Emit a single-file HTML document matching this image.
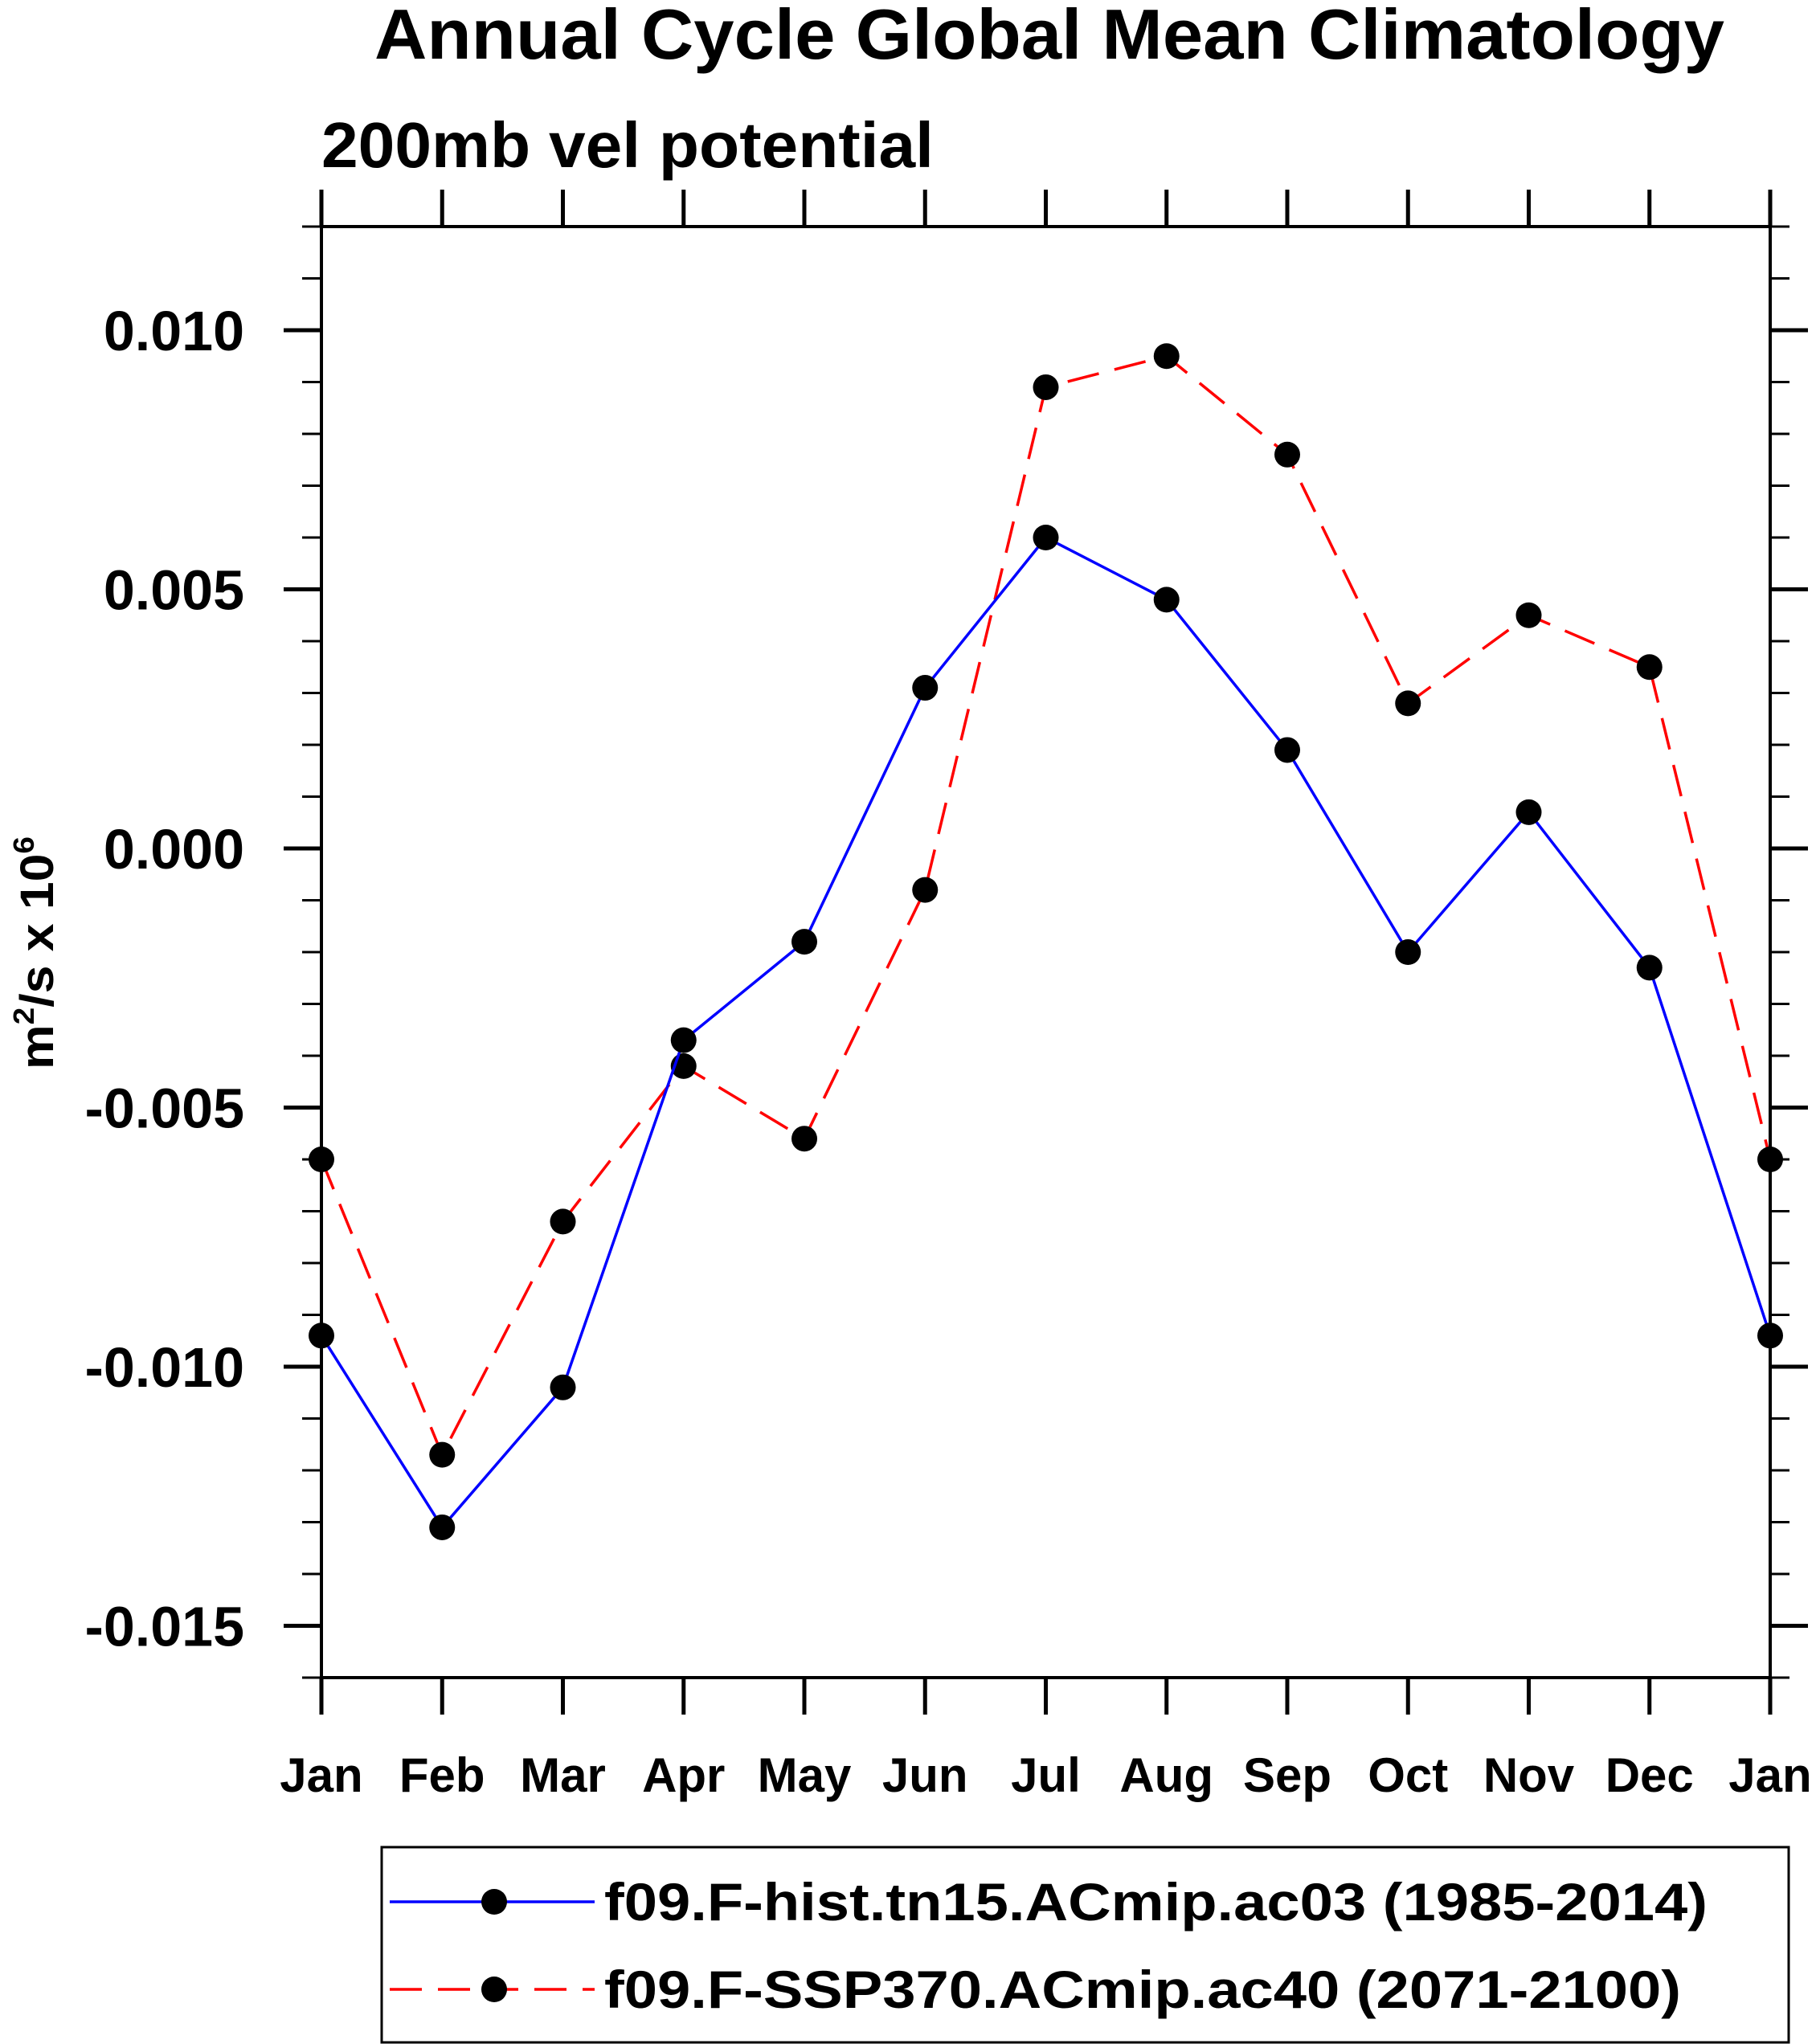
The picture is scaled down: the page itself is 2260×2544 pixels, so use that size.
<!DOCTYPE html>
<html><head><meta charset="utf-8"><style>html,body{margin:0;padding:0;background:#fff}svg{display:block}</style></head>
<body>
<svg id="chart" width="2260" height="2544" viewBox="0 0 2260 2544" xmlns="http://www.w3.org/2000/svg" font-family="Liberation Sans, Arial, sans-serif" font-weight="bold">
<rect width="2260" height="2544" fill="#fff"/>
<text x="1306" y="73" font-size="88" text-anchor="middle" textLength="1680" lengthAdjust="spacingAndGlyphs">Annual Cycle Global Mean Climatology</text>
<text x="400" y="208" font-size="80" textLength="762" lengthAdjust="spacingAndGlyphs">200mb vel potential</text>
<text transform="translate(66,1186) rotate(-90)" font-size="58" text-anchor="middle" textLength="290" lengthAdjust="spacingAndGlyphs">m<tspan font-size="36" dy="-24">2</tspan><tspan dy="24">/s x 10</tspan><tspan font-size="36" dy="-24">6</tspan></text>
<g id="axes"></g>
<g id="series"></g>
<g>
<rect x="475" y="2299" width="1751" height="243" fill="none" stroke="#000" stroke-width="3"/>
<line x1="485" y1="2367" x2="740" y2="2367" stroke="#0000ff" stroke-width="3.5"/>
<circle cx="615" cy="2367" r="16" fill="#000"/>
<text x="752" y="2390" font-size="66" textLength="1373" lengthAdjust="spacingAndGlyphs">f09.F-hist.tn15.ACmip.ac03 (1985-2014)</text>
<line x1="485" y1="2476" x2="740" y2="2476" stroke="#ff0000" stroke-width="3.5" stroke-dasharray="40,20"/>
<circle cx="615" cy="2476" r="16" fill="#000"/>
<text x="752" y="2499" font-size="66" textLength="1340" lengthAdjust="spacingAndGlyphs">f09.F-SSP370.ACmip.ac40 (2071-2100)</text>
</g>
</svg>
<script>
const months = ["Jan","Feb","Mar","Apr","May","Jun","Jul","Aug","Sep","Oct","Nov","Dec","Jan"];
const histValues = [-0.0094,-0.0131,-0.0104,-0.0037,-0.0018,0.0031,0.0060,0.0048,0.0019,-0.0020,0.0007,-0.0023,-0.0094];
const sspValues = [-0.0060,-0.0117,-0.0072,-0.0042,-0.0056,-0.0008,0.0089,0.0095,0.0076,0.0028,0.0045,0.0035,-0.0060];
const yTickValues = [0.010,0.005,0.000,-0.005,-0.010,-0.015];
const yTickLabels = ["0.010","0.005","0.000","-0.005","-0.010","-0.015"];
const yMin = -0.016, yMax = 0.012;

const NS = "http://www.w3.org/2000/svg";
const L = 400, R = 2203, T = 282, B = 2088;
const xPos = i => L + (R - L) * i / (months.length - 1);
const yPos = v => T + (yMax - v) / (yMax - yMin) * (B - T);
function mk(tag, attrs, parent){ const e = document.createElementNS(NS, tag); for (const k in attrs) e.setAttribute(k, attrs[k]); parent.appendChild(e); return e; }
const axes = document.getElementById("axes");
const series = document.getElementById("series");

const frame = mk("rect", {x:L, y:T, width:R-L, height:B-T, fill:"none", stroke:"#000", "stroke-width":4}, axes);



months.forEach((m, i) => {
  const x = xPos(i);
  const tb = mk("line", {x1:x, y1:B, x2:x, y2:B+46, stroke:"#000", "stroke-width":5}, axes);
  
  
  const tt = mk("line", {x1:x, y1:T, x2:x, y2:T-46, stroke:"#000", "stroke-width":5}, axes);
  
  
  const lb = mk("text", {x:x, y:2230, "font-size":60, "text-anchor":"middle"}, axes);
  lb.textContent = m;
  
  
});

for (let k = Math.ceil(yMin*1000); k <= Math.floor(yMax*1000); k++) {
  const v = k / 1000, y = yPos(v);
  const major = k % 5 === 0;
  const len = major ? 47 : 24, w = major ? 5 : 3;
  const a = mk("line", {x1:L-len, y1:y, x2:L, y2:y, stroke:"#000", "stroke-width":w}, axes);
  
  
  const b = mk("line", {x1:R, y1:y, x2:R+len, y2:y, stroke:"#000", "stroke-width":w}, axes);
  
  
}
yTickValues.forEach((v, i) => {
  const t = mk("text", {x:304, y:yPos(v)+25, "font-size":70, "text-anchor":"end"}, axes);
  t.textContent = yTickLabels[i];
  
  
});

function drawSeries(vals, color, dash, name){
  const pts = vals.map((v, i) => xPos(i) + "," + yPos(v)).join(" ");
  const attrs = {points:pts, fill:"none", stroke:color, "stroke-width":3.5};
  if (dash) attrs["stroke-dasharray"] = dash;
  const pl = mk("polyline", attrs, series);
  
  
  vals.forEach((v, i) => {
    const c = mk("circle", {cx:xPos(i), cy:yPos(v), r:16, fill:"#000"}, series);
    
    
  });
}
drawSeries(sspValues, "#ff0000", "40,20", "ssp370");
drawSeries(histValues, "#0000ff", null, "hist");
</script>
</body></html>
